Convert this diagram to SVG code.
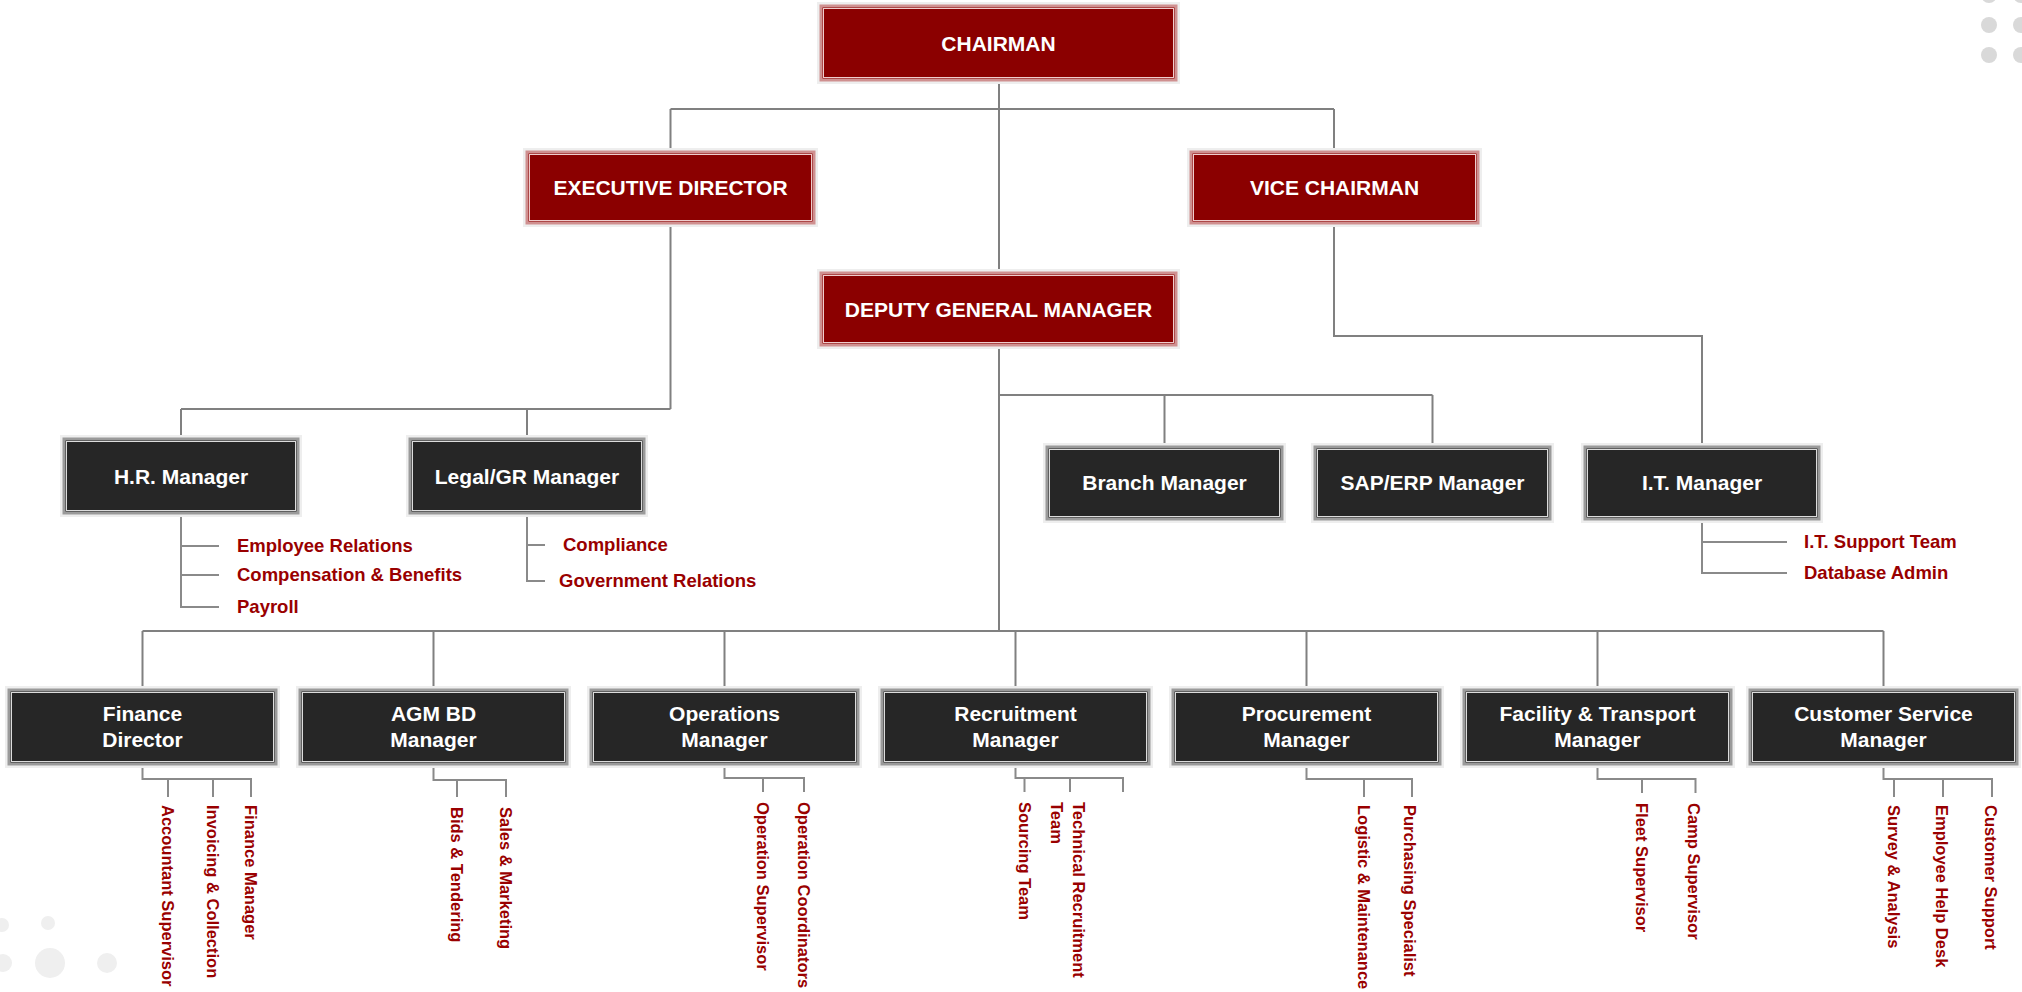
<svg xmlns="http://www.w3.org/2000/svg" width="2022" height="992" viewBox="0 0 2022 992">
<style>
.bg{fill:#ffffff}
.halo{fill:#eeeeee}
.rb{fill:#8B0000;stroke:#cf9090;stroke-width:3}
.rbi{fill:none;stroke:#efcccc;stroke-width:1}
.db{fill:#262626;stroke:#9a9a9a;stroke-width:3}
.dbi{fill:none;stroke:#dcdcdc;stroke-width:1}
.bt{font-family:"Liberation Sans",Arial,sans-serif;font-weight:bold;font-size:21px;fill:#ffffff;text-anchor:middle}
.st{font-family:"Liberation Sans",Arial,sans-serif;font-weight:bold;font-size:18.5px;fill:#990000}
.vt{font-family:"Liberation Sans",Arial,sans-serif;font-weight:bold;font-size:16.5px;fill:#990000}
.ln{fill:none;stroke:#808080;stroke-width:2}
.sl{fill:none;stroke:#8a8a8a;stroke-width:2}
.dot{fill:#d9d9d9}
.blob{fill:#efefef}
</style>
<rect class="bg" x="0" y="0" width="2022" height="992"/>
<g id="decor">
<circle class="dot" cx="1989" cy="-5" r="8"/><circle class="dot" cx="2021" cy="-5" r="8"/>
<circle class="dot" cx="1989" cy="25" r="8"/><circle class="dot" cx="2021" cy="25" r="8"/>
<circle class="dot" cx="1989" cy="55" r="8"/><circle class="dot" cx="2021" cy="55" r="8"/>
<circle class="blob" cx="50" cy="963" r="15"/><circle class="blob" cx="107" cy="963" r="10"/>
<circle class="blob" cx="3" cy="963" r="9"/><circle class="blob" cx="48" cy="923" r="7"/>
<circle class="blob" cx="2" cy="925" r="7"/>
</g>
<g id="connectors">
<path class="ln" d="M999 80V273M670.5 109H1334M670.5 109V152M1334 109V152"/>
<path class="ln" d="M670.5 223V409M181 409H670.5M181 409V439M527 409V439"/>
<path class="ln" d="M1334 223V336H1702V447"/>
<path class="ln" d="M999 345V631M999 395H1432.5M1164.5 395V447M1432.5 395V447"/>
<path class="ln" d="M142.5 631H1883.5M142.5 631V690M433.5 631V690M724.5 631V690M1015.5 631V690M1306.5 631V690M1597.5 631V690M1883.5 631V690"/>
<path class="sl" d="M181 513V607H219M181 546H219M181 575H219"/>
<path class="sl" d="M527 513V581H545M527 545H545"/>
<path class="sl" d="M1702 519V573H1787M1702 542H1787"/>
<path class="sl" d="M142.5 764V779H251V797M168 779V797M213 779V797"/>
<path class="sl" d="M433.5 764V780H506V797M457 780V797"/>
<path class="sl" d="M724.5 764V778H804V792M763 778V792"/>
<path class="sl" d="M1015.5 764V778H1123V792M1024.5 778V792M1070 778V792"/>
<path class="sl" d="M1306.5 764V779H1412V797M1364 779V797"/>
<path class="sl" d="M1597.5 764V779H1695.5V793M1642 779V793"/>
<path class="sl" d="M1883.5 764V779H1992V797M1894 779V797M1943 779V797"/>
</g>
<g id="chairman"><rect class="halo" x="817" y="2" width="363" height="82"/><rect class="rb" x="821" y="6" width="355" height="74"/><rect class="rbi" x="823.5" y="8.5" width="350" height="69"/><text class="bt" x="998.5" y="50.5">CHAIRMAN</text></g>
<g id="executive-director"><rect class="halo" x="523" y="148" width="295" height="79"/><rect class="rb" x="527" y="152" width="287" height="71"/><rect class="rbi" x="529.5" y="154.5" width="282" height="66"/><text class="bt" x="670.5" y="195">EXECUTIVE DIRECTOR</text></g>
<g id="vice-chairman"><rect class="halo" x="1187" y="148" width="295" height="79"/><rect class="rb" x="1191" y="152" width="287" height="71"/><rect class="rbi" x="1193.5" y="154.5" width="282" height="66"/><text class="bt" x="1334.5" y="195">VICE CHAIRMAN</text></g>
<g id="deputy-general-manager"><rect class="halo" x="817" y="269" width="363" height="80"/><rect class="rb" x="821" y="273" width="355" height="72"/><rect class="rbi" x="823.5" y="275.5" width="350" height="67"/><text class="bt" x="998.5" y="317">DEPUTY GENERAL MANAGER</text></g>
<g id="hr-manager"><rect class="halo" x="60" y="435" width="242" height="82"/><rect class="db" x="64" y="439" width="234" height="74"/><rect class="dbi" x="66.5" y="441.5" width="229" height="69"/><text class="bt" x="181" y="484">H.R. Manager</text>
<text class="st" x="237" y="552">Employee Relations</text><text class="st" x="237" y="581">Compensation &amp; Benefits</text><text class="st" x="237" y="613">Payroll</text></g>
<g id="legal-gr-manager"><rect class="halo" x="406" y="435" width="242" height="82"/><rect class="db" x="410" y="439" width="234" height="74"/><rect class="dbi" x="412.5" y="441.5" width="229" height="69"/><text class="bt" x="527" y="484">Legal/GR Manager</text>
<text class="st" x="563" y="551">Compliance</text><text class="st" x="559" y="587">Government Relations</text></g>
<g id="branch-manager"><rect class="halo" x="1043" y="443" width="243" height="80"/><rect class="db" x="1047" y="447" width="235" height="72"/><rect class="dbi" x="1049.5" y="449.5" width="230" height="67"/><text class="bt" x="1164.5" y="490">Branch Manager</text></g>
<g id="sap-erp-manager"><rect class="halo" x="1311" y="443" width="243" height="80"/><rect class="db" x="1315" y="447" width="235" height="72"/><rect class="dbi" x="1317.5" y="449.5" width="230" height="67"/><text class="bt" x="1432.5" y="490">SAP/ERP Manager</text></g>
<g id="it-manager"><rect class="halo" x="1581" y="443" width="242" height="80"/><rect class="db" x="1585" y="447" width="234" height="72"/><rect class="dbi" x="1587.5" y="449.5" width="229" height="67"/><text class="bt" x="1702" y="490">I.T. Manager</text>
<text class="st" x="1804" y="548">I.T. Support Team</text><text class="st" x="1804" y="579">Database Admin</text></g>
<g id="finance-director"><rect class="halo" x="5" y="686" width="275" height="82"/><rect class="db" x="9" y="690" width="267" height="74"/><rect class="dbi" x="11.5" y="692.5" width="262" height="69"/><text class="bt" x="142.5" y="721">Finance</text><text class="bt" x="142.5" y="747">Director</text>
<text class="vt" transform="translate(162 805) rotate(90)">Accountant Supervisor</text>
<text class="vt" transform="translate(207 805) rotate(90)">Invoicing &amp; Collection</text>
<text class="vt" transform="translate(245 805) rotate(90)">Finance Manager</text></g>
<g id="agm-bd-manager"><rect class="halo" x="296" y="686" width="275" height="82"/><rect class="db" x="300" y="690" width="267" height="74"/><rect class="dbi" x="302.5" y="692.5" width="262" height="69"/><text class="bt" x="433.5" y="721">AGM BD</text><text class="bt" x="433.5" y="747">Manager</text>
<text class="vt" transform="translate(451 807) rotate(90)">Bids &amp; Tendering</text>
<text class="vt" transform="translate(500 807) rotate(90)">Sales &amp; Marketing</text></g>
<g id="operations-manager"><rect class="halo" x="587" y="686" width="275" height="82"/><rect class="db" x="591" y="690" width="267" height="74"/><rect class="dbi" x="593.5" y="692.5" width="262" height="69"/><text class="bt" x="724.5" y="721">Operations</text><text class="bt" x="724.5" y="747">Manager</text>
<text class="vt" transform="translate(757 802) rotate(90)">Operation Supervisor</text>
<text class="vt" transform="translate(798 802) rotate(90)">Operation Coordinators</text></g>
<g id="recruitment-manager"><rect class="halo" x="878" y="686" width="275" height="82"/><rect class="db" x="882" y="690" width="267" height="74"/><rect class="dbi" x="884.5" y="692.5" width="262" height="69"/><text class="bt" x="1015.5" y="721">Recruitment</text><text class="bt" x="1015.5" y="747">Manager</text>
<text class="vt" transform="translate(1018.5 802) rotate(90)">Sourcing Team</text>
<text class="vt" transform="translate(1072.5 802) rotate(90)">Technical Recruitment<tspan x="0" dy="21.5">Team</tspan></text></g>
<g id="procurement-manager"><rect class="halo" x="1169" y="686" width="275" height="82"/><rect class="db" x="1173" y="690" width="267" height="74"/><rect class="dbi" x="1175.5" y="692.5" width="262" height="69"/><text class="bt" x="1306.5" y="721">Procurement</text><text class="bt" x="1306.5" y="747">Manager</text>
<text class="vt" transform="translate(1358 805) rotate(90)">Logistic &amp; Maintenance</text>
<text class="vt" transform="translate(1404 805) rotate(90)">Purchasing Specialist</text></g>
<g id="facility-transport-manager"><rect class="halo" x="1460" y="686" width="275" height="82"/><rect class="db" x="1464" y="690" width="267" height="74"/><rect class="dbi" x="1466.5" y="692.5" width="262" height="69"/><text class="bt" x="1597.5" y="721">Facility &amp; Transport</text><text class="bt" x="1597.5" y="747">Manager</text>
<text class="vt" transform="translate(1636 803) rotate(90)">Fleet Supervisor</text>
<text class="vt" transform="translate(1688 803) rotate(90)">Camp Supervisor</text></g>
<g id="customer-service-manager"><rect class="halo" x="1746" y="686" width="275" height="82"/><rect class="db" x="1750" y="690" width="267" height="74"/><rect class="dbi" x="1752.5" y="692.5" width="262" height="69"/><text class="bt" x="1883.5" y="721">Customer Service</text><text class="bt" x="1883.5" y="747">Manager</text>
<text class="vt" transform="translate(1888 805) rotate(90)">Survey &amp; Analysis</text>
<text class="vt" transform="translate(1936 805) rotate(90)">Employee Help Desk</text>
<text class="vt" transform="translate(1985 805) rotate(90)">Customer Support</text></g>
</svg>
